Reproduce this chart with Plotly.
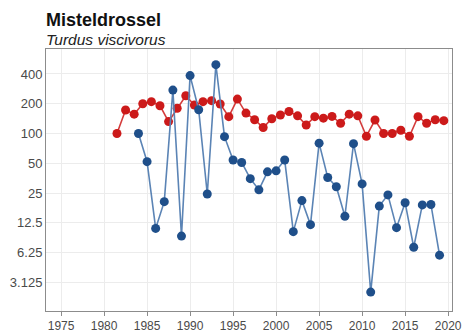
import plotly.graph_objects as go
import math

# Annual index values (log scale)
red_years = list(range(1981, 2020))
red_values = [100, 173, 157, 200, 210, 191, 132, 180, 241, 194,
              210, 215, 199, 148, 223, 161, 138, 115, 141, 154,
              167, 151, 122, 148, 143, 149, 127, 157, 151, 94,
              137, 100, 100, 108, 94, 148, 127, 138, 135]

blue_years = list(range(1984, 2020))
blue_values = [100, 52, 11, 20.5, 275, 9.2, 385, 174, 24.5, 497,
               93, 54, 51, 35, 27, 41, 42, 54, 10.2, 21,
               12, 80, 36, 29, 14.6, 79, 31, 2.5, 18.5, 24,
               11.2, 20, 7.1, 19, 19.2, 5.9]

# red series is a winter count, plotted at the season midpoint
season_shift = 0.5

y_tick_values = [3.125, 6.25, 12.5, 25, 50, 100, 200, 400]
y_tick_labels = ["3.125", "6.25", "12.5", "25", "50", "100", "200", "400"]
x_tick_values = list(range(1975, 2021, 5))

title_text = "Misteldrossel"
subtitle_text = "Turdus viscivorus"

fig = go.Figure()

fig.add_trace(go.Scatter(
    x=[y + season_shift for y in red_years], y=red_values,
    mode="lines+markers",
    line=dict(color="#d43c3c", width=1.6),
    marker=dict(color="#cc1a1a", size=9),
    showlegend=False,
))

fig.add_trace(go.Scatter(
    x=blue_years, y=blue_values,
    mode="lines+markers",
    line=dict(color="#5b84b5", width=1.6),
    marker=dict(color="#1f4f8a", size=9),
    showlegend=False,
))

PLOT_H = 333 - 49 - 22

fig.update_layout(
    width=466, height=333,
    margin=dict(l=46, r=14, t=49, b=22, autoexpand=False),
    paper_bgcolor="white", plot_bgcolor="white",
    font=dict(family="Liberation Sans, Arial, sans-serif", color="#4a4a4a", size=12),
    annotations=[
        dict(text="<b>" + title_text + "</b>", xref="paper", yref="paper",
             x=0, y=1 + 29 / PLOT_H, xanchor="left", yanchor="middle", showarrow=False,
             xshift=-2,
             font=dict(size=18, color="#111111", family="Liberation Sans, Arial, sans-serif")),
        dict(text="<i>" + subtitle_text + "</i>", xref="paper", yref="paper",
             x=0, y=1 + 10 / PLOT_H, xanchor="left", yanchor="middle", showarrow=False,
             xshift=-2,
             font=dict(size=15.5, color="#222222", family="Liberation Sans, Arial, sans-serif")),
    ],
)

fig.update_xaxes(
    range=[1973.25, 2020.45],
    tickvals=x_tick_values,
    showgrid=True, gridcolor="#ececec", gridwidth=1,
    showline=True, linecolor="#8c8c8c", linewidth=1, mirror=True,
    ticks="outside", ticklen=4, tickcolor="#8c8c8c",
    tickfont=dict(size=12, color="#4a4a4a"),
    zeroline=False, automargin=False,
)

fig.update_yaxes(
    type="log",
    range=[math.log10(1.61), math.log10(715)],
    tickvals=y_tick_values, ticktext=y_tick_labels,
    showgrid=True, gridcolor="#ececec", gridwidth=1,
    showline=True, linecolor="#8c8c8c", linewidth=1, mirror=True,
    ticks="", ticklen=0,
    tickfont=dict(size=13, color="#4a4a4a"),
    zeroline=False, automargin=False,
)

fig.write_html("out.html")
